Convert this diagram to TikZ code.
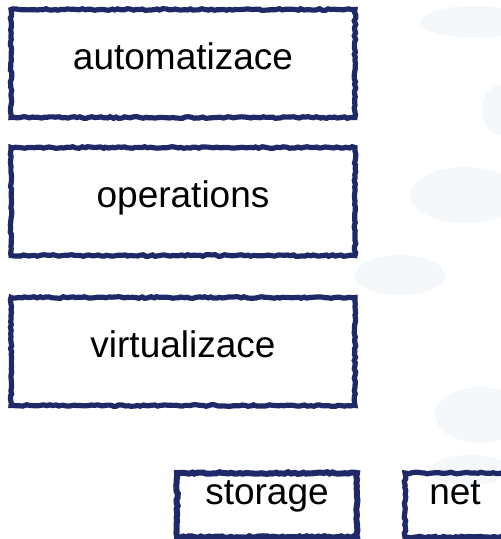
\documentclass[tikz,border=0pt]{standalone}
\usepackage{fontspec}
\setmainfont{Liberation Sans}
\usetikzlibrary{decorations.pathmorphing}
\definecolor{inkblue}{RGB}{31,41,104}
\definecolor{blobblue}{RGB}{244,248,251}
\tikzset{
  rough/.style={draw=inkblue, line width=5.2pt, decorate,
    decoration={random steps, segment length=3pt, amplitude=0.8pt}},
  bigbox/.style={rough, inner sep=0pt, minimum width=344pt, minimum height=108pt,
    text height=20pt, text depth=8pt, font=\fontsize{37}{40}\selectfont},
  smallbox/.style={rough, inner sep=0pt, minimum height=64pt,
    text height=31pt, text depth=33pt, font=\fontsize{37}{40}\selectfont},
  blob/.style={fill=blobblue, draw=none}
}
\begin{document}
\begin{tikzpicture}[x=1pt,y=-1pt]
\pgfmathsetseed{7}
\useasboundingbox (0,0) rectangle (501,539);
\clip (0,0) rectangle (501,539);
% faint background blobs
\fill[blob] (475,22) ellipse (55 and 16);
\fill[blob] (465,195) ellipse (55 and 28);
\fill[blob] (400,275) ellipse (45 and 20);
\fill[blob] (500,110) ellipse (18 and 25);
\fill[blob] (480,415) ellipse (45 and 28);
\fill[blob] (470,470) ellipse (40 and 15);
% boxes
\node[bigbox] (auto) at (183,63.5) {automatizace};
\node[bigbox] (oper) at (183,201.5) {operations};
\node[bigbox] (virt) at (183,351.5) {virtualizace};
\node[smallbox, minimum width=180pt, line width=6pt] (stor) at (267,505) {storage};
\node[smallbox, minimum width=100pt] (net) at (455,505) {net};
\end{tikzpicture}
\end{document}
